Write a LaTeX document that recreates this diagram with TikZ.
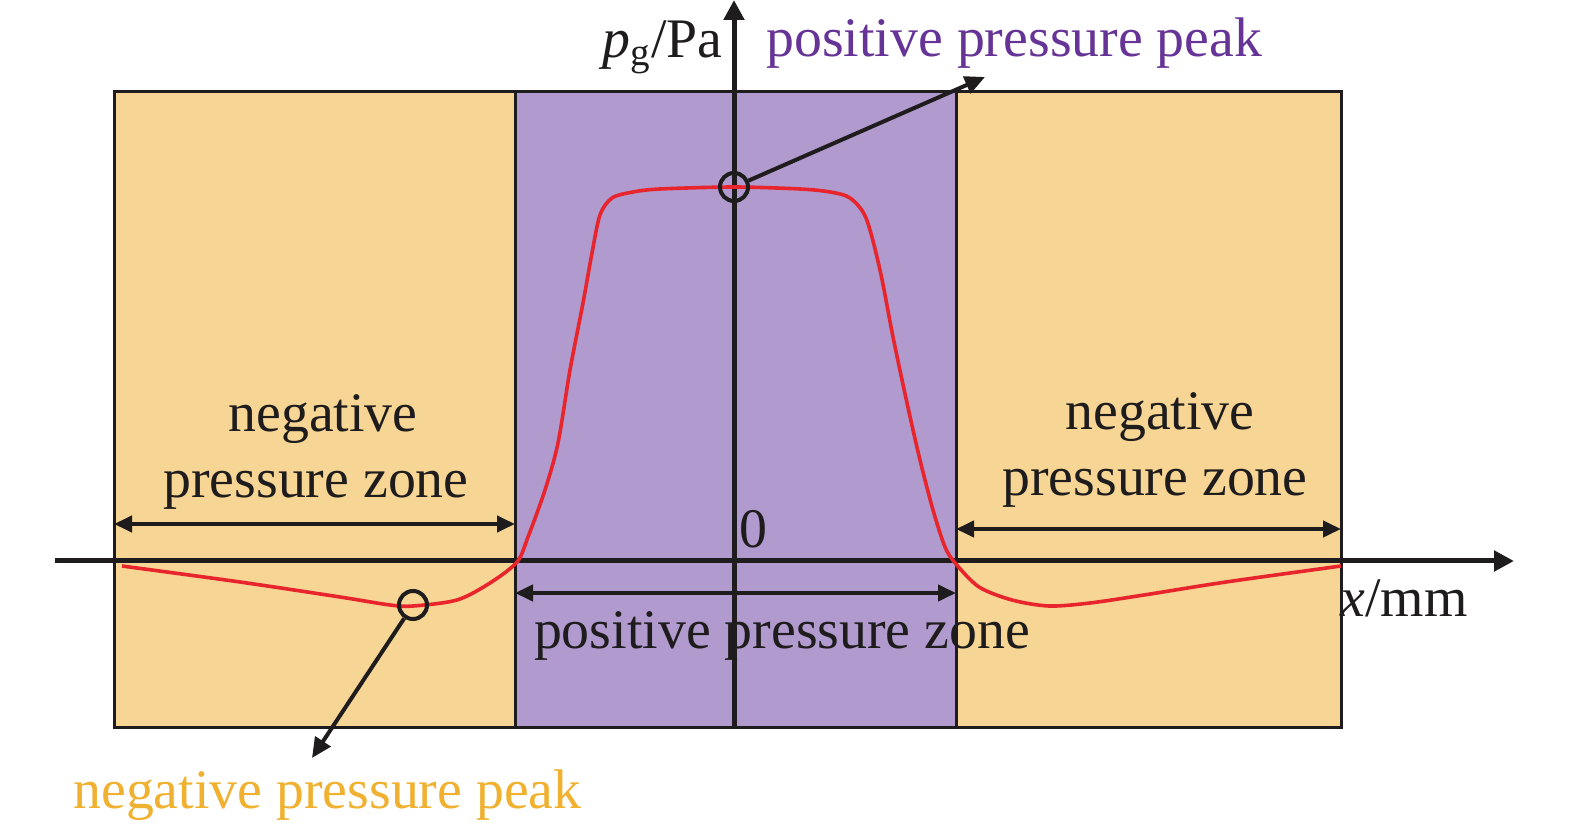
\documentclass[tikz,border=0pt]{standalone}
\usepackage{fontspec}
\setmainfont{Liberation Serif}
\usetikzlibrary{arrows.meta}
\definecolor{zoneorange}{RGB}{247,213,148}
\definecolor{zonepurple}{RGB}{176,154,206}
\definecolor{txtpurple}{RGB}{102,52,150}
\definecolor{txtorange}{RGB}{240,176,48}
\definecolor{curvered}{RGB}{232,36,44}
\definecolor{ink}{RGB}{30,28,28}
\tikzset{
  zonebox/.style={draw=ink, line width=1.5pt},
  axisline/.style={draw=ink, line width=2.5pt, -{Triangle[length=10pt,width=10pt]}},
  spanarrow/.style={draw=ink, line width=2pt, {Triangle[length=9pt,width=8pt]}-{Triangle[length=9pt,width=8pt]}},
  peakarrow/.style={draw=ink, line width=2pt, -{Triangle[length=10pt,width=9pt]}},
  peakmark/.style={circle, draw=ink, line width=2pt, minimum size=14pt, inner sep=0pt},
  lbl/.style={font=\fontsize{27.9}{33}\selectfont, text=ink, inner sep=0pt, anchor=base},
}
\begin{document}
\begin{tikzpicture}[x=0.5pt,y=-0.5pt]
\useasboundingbox (0,0) rectangle (1575,828);
% zones
\path[zonebox, fill=zoneorange] (114,92) rectangle (515,727);
\path[zonebox, fill=zonepurple] (515,92) rectangle (956,727);
\path[zonebox, fill=zoneorange] (956,92) rectangle (1341,727);
% axes
\coordinate (xs) at (55,561);
\coordinate (xe) at (1514,561);
\coordinate (ys) at (734,727);
\coordinate (ye) at (734,0);
\draw[axisline] (xs) -- (xe);
\draw[axisline] (ys) -- (ye);
% span arrows
\coordinate (la) at (114,524); \coordinate (lb) at (515,524);
\coordinate (ma) at (515,593); \coordinate (mb) at (956,593);
\coordinate (ra) at (956,529); \coordinate (rb) at (1341,529);
\draw[spanarrow] (la) -- (lb);
\draw[spanarrow] (ma) -- (mb);
\draw[spanarrow] (ra) -- (rb);
% curve
\draw[curvered, line width=1.8pt, line join=round] plot[smooth, tension=0.5] coordinates {
 (122,566) (240,582) (340,597) (390,605) (413,606) (457,600) (490,583) (517,562)
 (528,537) (545,490) (558,443) (570,370) (583,303) (592,253) (600,215) (612,198)
 (633,192) (660,189) (734,187) (800,189) (830,192) (850,198) (866,218) (880,270)
 (893,337) (907,403) (920,460) (933,510) (945,547) (956,564)
 (979,587) (1012,600) (1049,606) (1090,603) (1144,595) (1226,582) (1341,566)};
% peak markers
\node[peakmark] (pp) at (734,187) {};
\node[peakmark] (np) at (413,605) {};
\coordinate (ppend) at (985,77);
\coordinate (npend) at (312,758);
\draw[peakarrow] (pp) -- (ppend);
\draw[peakarrow] (np) -- (npend);
% labels
\node[lbl] (ln1) at (323,432) {negative};
\node[lbl] (ln2) at (316,498) {pressure zone};
\node[lbl] (rn1) at (1160,430) {negative};
\node[lbl] (rn2) at (1155,495) {pressure zone};
\node[lbl] (zero) at (753,547) {0};
\node[lbl] (pz) at (782,648) {positive pressure zone};
\node[lbl, anchor=base west] (xl) at (1340,617) {\textit{x}/mm};
\node[lbl, anchor=base east] (yl) at (723,58) {\textit{p}\textsubscript{g}/Pa};
\node[lbl, anchor=base west, text=txtpurple] (ppl) at (766,57) {positive pressure peak};
\node[lbl, anchor=base west, text=txtorange] (npl) at (73,808) {negative pressure peak};
\end{tikzpicture}
\end{document}
